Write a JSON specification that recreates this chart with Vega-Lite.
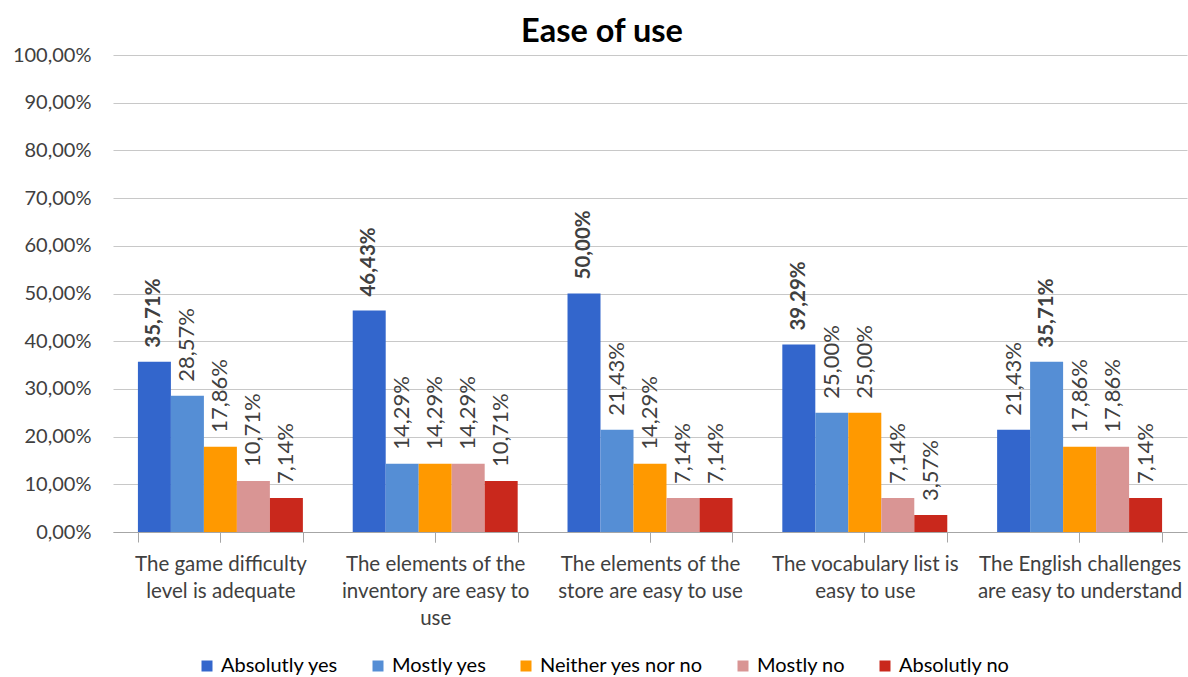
{
  "$schema": "https://vega.github.io/schema/vega-lite/v6.json",
  "width": 1074,
  "height": 477,
  "autosize": {"type": "none"},
  "padding": {"left": 113, "top": 55, "right": 1, "bottom": 145},
  "background": "white",
  "title": {"text": "Ease of use", "font": "Lato", "fontSize": 32.5, "fontWeight": "bold", "color": "#000000", "anchor": "middle", "dx": -48, "offset": -3},
  "data": {"values": [
    {"question": "The game difficulty|level is adequate", "answer": "Absolutly yes", "value": 0.3571},
    {"question": "The game difficulty|level is adequate", "answer": "Mostly yes", "value": 0.2857},
    {"question": "The game difficulty|level is adequate", "answer": "Neither yes nor no", "value": 0.1786},
    {"question": "The game difficulty|level is adequate", "answer": "Mostly no", "value": 0.1071},
    {"question": "The game difficulty|level is adequate", "answer": "Absolutly no", "value": 0.0714},
    {"question": "The elements of the|inventory are easy to|use", "answer": "Absolutly yes", "value": 0.4643},
    {"question": "The elements of the|inventory are easy to|use", "answer": "Mostly yes", "value": 0.1429},
    {"question": "The elements of the|inventory are easy to|use", "answer": "Neither yes nor no", "value": 0.1429},
    {"question": "The elements of the|inventory are easy to|use", "answer": "Mostly no", "value": 0.1429},
    {"question": "The elements of the|inventory are easy to|use", "answer": "Absolutly no", "value": 0.1071},
    {"question": "The elements of the|store are easy to use", "answer": "Absolutly yes", "value": 0.5},
    {"question": "The elements of the|store are easy to use", "answer": "Mostly yes", "value": 0.2143},
    {"question": "The elements of the|store are easy to use", "answer": "Neither yes nor no", "value": 0.1429},
    {"question": "The elements of the|store are easy to use", "answer": "Mostly no", "value": 0.0714},
    {"question": "The elements of the|store are easy to use", "answer": "Absolutly no", "value": 0.0714},
    {"question": "The vocabulary list is|easy to use", "answer": "Absolutly yes", "value": 0.3929},
    {"question": "The vocabulary list is|easy to use", "answer": "Mostly yes", "value": 0.25},
    {"question": "The vocabulary list is|easy to use", "answer": "Neither yes nor no", "value": 0.25},
    {"question": "The vocabulary list is|easy to use", "answer": "Mostly no", "value": 0.0714},
    {"question": "The vocabulary list is|easy to use", "answer": "Absolutly no", "value": 0.0357},
    {"question": "The English challenges|are easy to understand", "answer": "Absolutly yes", "value": 0.2143},
    {"question": "The English challenges|are easy to understand", "answer": "Mostly yes", "value": 0.3571},
    {"question": "The English challenges|are easy to understand", "answer": "Neither yes nor no", "value": 0.1786},
    {"question": "The English challenges|are easy to understand", "answer": "Mostly no", "value": 0.1786},
    {"question": "The English challenges|are easy to understand", "answer": "Absolutly no", "value": 0.0714}
  ]},
  "transform": [
    {"joinaggregate": [{"op": "max", "field": "value", "as": "maxv"}], "groupby": ["question"]}
  ],
  "encoding": {
    "x": {
      "field": "question", "type": "nominal", "sort": null,
      "scale": {"paddingInner": 0.232, "paddingOuter": 0.116},
      "axis": {
        "orient": "bottom", "title": null, "labelAngle": 0, "labelExpr": "split(datum.label, '|')",
        "labelFont": "Lato", "labelFontSize": 20.5, "labelColor": "#404040", "labelLineHeight": 27,
        "labelPadding": 12, "labelLimit": 300,
        "tickBand": "extent", "tickSize": 10, "tickColor": "#a6a6a6", "domainColor": "#a6a6a6",
        "grid": false
      }
    },
    "xOffset": {
      "field": "answer", "type": "nominal",
      "sort": ["Absolutly yes", "Mostly yes", "Neither yes nor no", "Mostly no", "Absolutly no"],
      "scale": {"paddingInner": 0, "paddingOuter": 0}
    },
    "y": {
      "field": "value", "type": "quantitative",
      "scale": {"domain": [0, 1], "nice": false},
      "axis": {
        "title": null, "format": ".2%", "values": [0, 0.1, 0.2, 0.3, 0.4, 0.5, 0.6, 0.7, 0.8, 0.9, 1],
        "labelFont": "Lato", "labelFontSize": 20, "labelColor": "#404040", "labelPadding": 22,
        "domain": false, "ticks": false, "gridColor": "#c8c8c8", "gridWidth": 1.2
      }
    }
  },
  "layer": [
    {
      "mark": {"type": "bar"},
      "encoding": {
        "color": {
          "field": "answer", "type": "nominal",
          "sort": ["Absolutly yes", "Mostly yes", "Neither yes nor no", "Mostly no", "Absolutly no"],
          "scale": {
            "domain": ["Absolutly yes", "Mostly yes", "Neither yes nor no", "Mostly no", "Absolutly no"],
            "range": ["#3366cc", "#558ed5", "#ff9900", "#d99594", "#c9281c"]
          },
          "legend": {
            "title": null, "orient": "none", "direction": "horizontal", "legendX": 84, "legendY": 601,
            "symbolType": "square", "symbolSize": 121, "symbolStrokeWidth": 0,
            "labelFont": "Lato", "labelFontSize": 20, "labelColor": "#000000", "labelLimit": 400,
            "columnPadding": 29, "labelOffset": 4
          }
        }
      }
    },
    {
      "transform": [{"filter": "datum.value == datum.maxv"}],
      "mark": {"type": "text", "angle": -90, "align": "left", "baseline": "middle", "dx": 14, "font": "Lato", "fontSize": 20.5, "fontWeight": "bold", "color": "#404040"},
      "encoding": {
        "x": {
          "field": "question", "type": "nominal", "sort": null,
          "axis": {"orient": "bottom", "labels": false, "domain": false, "grid": false, "title": null, "tickBand": "center", "tickSize": 10, "tickColor": "#a6a6a6"}
        },
        "text": {"field": "value", "type": "quantitative", "format": ".2%"}
      }
    },
    {
      "transform": [{"filter": "datum.value != datum.maxv"}],
      "mark": {"type": "text", "angle": -90, "align": "left", "baseline": "middle", "dx": 14, "font": "Lato", "fontSize": 22, "color": "#404040"},
      "encoding": {
        "x": {
          "field": "question", "type": "nominal", "sort": null,
          "axis": {"orient": "bottom", "labels": false, "domain": false, "grid": false, "title": null, "tickBand": "center", "tickSize": 10, "tickColor": "#a6a6a6"}
        },
        "text": {"field": "value", "type": "quantitative", "format": ".2%"}
      }
    }
  ],
  "resolve": {"axis": {"x": "independent"}},
  "config": {
    "locale": {"number": {"decimal": ",", "thousands": ".", "grouping": [3], "currency": ["", " €"]}},
    "view": {"stroke": null}
  }
}
